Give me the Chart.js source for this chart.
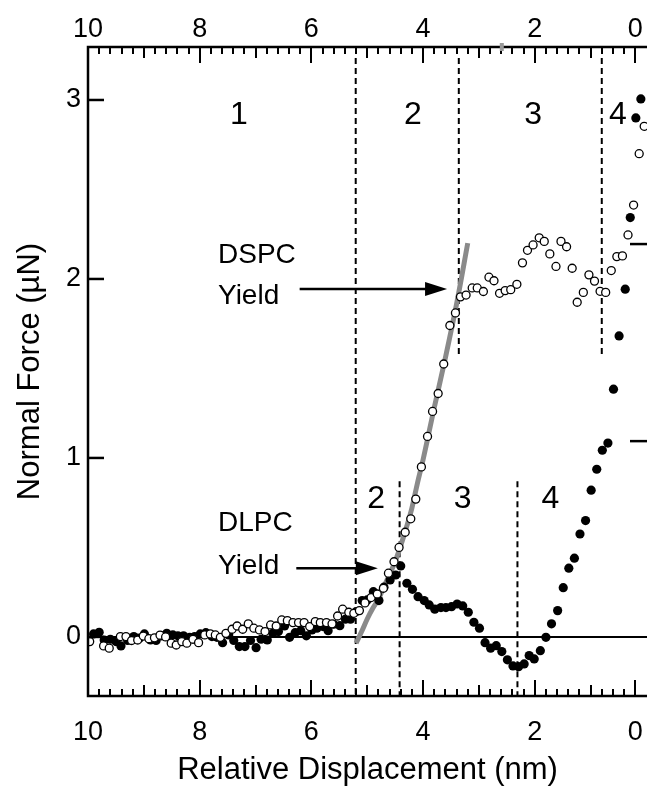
<!DOCTYPE html>
<html><head><meta charset="utf-8">
<script src="https://cdn.jsdelivr.net/npm/chart.js@4.4.1/dist/chart.umd.min.js"></script>
<style>html,body{margin:0;padding:0;background:#fff;}</style>
</head><body>
<canvas id="c" width="647" height="790"></canvas>
<script>
// ---- data ----
const dlpcX = [9.90,9.80,9.71,9.60,9.50,9.41,9.29,9.18,9.08,8.99,8.88,8.78,8.68,8.59,8.48,8.39,8.29,8.18,8.09,7.99,7.89,7.78,7.69,7.59,7.48,7.39,7.29,7.19,7.09,6.99,6.90,6.79,6.69,6.59,6.48,6.39,6.29,6.19,6.09,5.99,5.90,5.79,5.70,5.60,5.49,5.39,5.30,5.20,5.09,5.00,4.89,4.79,4.70,4.59,4.49,4.40,4.29,4.19,4.09,3.98,3.89,3.79,3.68,3.59,3.49,3.39,3.29,3.19,3.09,2.99,2.89,2.79,2.69,2.59,2.49,2.39,2.29,2.19,2.10,2.01,1.90,1.80,1.70,1.59,1.49,1.39,1.29,1.19,1.09,0.99,0.89,0.79,0.69,0.59,0.49,0.38,0.29,0.19,0.10];
const dlpcY = [0.017,0.026,-0.017,-0.013,-0.026,-0.05,-0.02,0.002,-0.007,0.017,-0.017,-0.02,0.006,0.02,0.011,0.006,0.006,-0.002,0.002,0.017,0.024,0.002,-0.002,-0.032,0.011,-0.02,-0.054,-0.054,-0.02,-0.06,-0.013,-0.017,0.02,0.03,0.061,-0.002,0.024,0.035,0.006,0.039,0.049,0.058,0.035,0.071,0.063,0.099,0.099,0.141,0.203,0.207,0.253,0.203,0.278,0.318,0.346,0.397,0.30,0.266,0.225,0.203,0.179,0.155,0.164,0.164,0.169,0.184,0.173,0.138,0.082,0.049,-0.032,-0.063,-0.049,-0.082,-0.128,-0.162,-0.166,-0.151,-0.104,-0.123,-0.077,-0.002,0.073,0.147,0.275,0.384,0.44,0.575,0.65,0.82,0.937,1.043,1.083,1.384,1.682,1.943,2.343,2.90,3.006];
const dspcX = [9.97,9.72,9.62,9.42,9.32,9.22,9.11,9.01,8.91,8.81,8.71,8.61,8.51,8.42,8.32,8.23,8.12,8.02,7.91,7.81,7.72,7.63,7.53,7.42,7.33,7.23,7.13,7.03,6.93,6.83,6.73,6.63,6.53,6.43,6.33,6.23,6.13,6.03,5.93,5.84,5.73,5.63,5.53,5.44,5.33,5.24,5.14,5.04,4.93,4.82,4.71,4.62,4.52,4.43,4.32,4.22,4.13,4.03,3.92,3.83,3.73,3.63,3.52,3.42,3.33,3.23,3.12,3.03,2.92,2.82,2.73,2.63,2.53,2.43,2.32,2.22,2.13,2.03,1.92,1.83,1.73,1.62,1.53,1.43,1.33,1.24,1.13,1.03,0.93,0.83,0.73,0.63,0.53,0.43,0.33,0.23,0.13,0.04];
const dspcY = [-0.026,-0.05,-0.063,0.002,0.002,-0.02,-0.017,0.005,-0.01,-0.005,0.01,0.0,-0.035,-0.045,-0.026,-0.035,-0.013,-0.032,0.011,0.017,0.011,-0.002,0.02,0.043,0.061,0.043,0.073,0.049,0.039,0.03,0.067,0.061,0.095,0.091,0.08,0.08,0.08,0.058,0.086,0.08,0.08,0.073,0.117,0.155,0.138,0.132,0.147,0.19,0.22,0.24,0.272,0.356,0.42,0.50,0.585,0.66,0.77,0.95,1.12,1.26,1.36,1.525,1.74,1.81,1.90,1.91,1.95,1.95,1.93,2.01,1.99,1.92,1.935,1.94,1.97,2.09,2.16,2.19,2.23,2.21,2.14,2.07,2.21,2.18,2.06,1.87,1.925,2.023,1.988,1.931,1.925,2.047,2.125,2.129,2.246,2.413,2.70,2.853];
const fitX = [5.20,5.10,5.00,4.90,4.80,4.70,4.60,4.50,4.40,4.30,4.20,4.10,4.00,3.80,3.60,3.40,3.20];
const fitY = [-0.035,0.03,0.10,0.16,0.21,0.28,0.35,0.42,0.51,0.61,0.72,0.86,0.99,1.28,1.56,1.86,2.20];

const xTickValues = [10,8,6,4,2,0.2];
const xTickLabels = ['10','8','6','4','2','0'];
const yTickValues = [0,1,2,3];
const rightTickValues = [1.094,2.195];

const guideX      = [5.206,3.36,0.80,4.42,2.31];
const guideTop    = [3.235,3.235,3.235,0.87,0.87];
const guideBottom = [-0.33,1.575,1.575,-0.33,-0.33];

const regionText = ['1','2','3','4','2','3','4'];
const regionX    = [7.30,4.18,2.03,0.51,4.84,3.29,1.72];
const regionY    = [2.916,2.916,2.916,2.916,0.771,0.771,0.771];

const yieldLines  = [['DSPC','Yield'],['DLPC','Yield']];
const yieldTextX  = [7.672,7.672];
const yieldTextY  = [[2.134,1.905],[0.637,0.397]];
const arrowStartX = [6.21,6.27];
const arrowTipX   = [3.57,4.81];
const arrowY      = [1.944,0.384];

const grayMarkX = 2.59;

const FONT = '"Liberation Sans", Arial, Helvetica, sans-serif';
const pts = (xs, ys) => xs.map((x,i)=>({x:x, y:ys[i]}));

const overlay = {
  id:'overlay',
  beforeDatasetsDraw(chart){
    const {ctx, chartArea:a} = chart;
    const xs = chart.scales.x, ys = chart.scales.y;
    ctx.save();
    ctx.strokeStyle='#000'; ctx.lineWidth=2;
    ctx.beginPath(); const y0 = ys.getPixelForValue(0);
    ctx.moveTo(a.left,y0); ctx.lineTo(a.right,y0); ctx.stroke();
    ctx.setLineDash([6,4]); ctx.lineWidth=2;
    guideX.forEach((gx,i)=>{
      const px = xs.getPixelForValue(gx);
      ctx.beginPath();
      ctx.moveTo(px, ys.getPixelForValue(guideTop[i]));
      ctx.lineTo(px, ys.getPixelForValue(guideBottom[i]));
      ctx.stroke();
    });
    ctx.restore();
  },
  afterDatasetsDraw(chart){
    const {ctx, chartArea:a} = chart;
    const xs = chart.scales.x, ys = chart.scales.y;
    ctx.save();
    ctx.strokeStyle='#000'; ctx.fillStyle='#000'; ctx.lineWidth=2.5; ctx.lineCap='butt';
    ctx.beginPath();
    ctx.moveTo(a.right, a.top); ctx.lineTo(a.left, a.top); ctx.lineTo(a.left, a.bottom); ctx.lineTo(a.right, a.bottom);
    ctx.stroke();
    ctx.lineWidth=2;
    for(let k=0;k<=49;k++){
      const v = 10 - 0.2*k;
      const px = Math.round(xs.getPixelForValue(v));
      let len = 7;
      if (k%10===0 || k===49) len = 16; else if (k%5===0) len = 11;
      ctx.beginPath();
      ctx.moveTo(px, a.top); ctx.lineTo(px, a.top+len);
      ctx.moveTo(px, a.bottom); ctx.lineTo(px, a.bottom-len);
      ctx.stroke();
    }
    ctx.lineWidth=2.5;
    yTickValues.forEach(v=>{
      const py = ys.getPixelForValue(v);
      ctx.beginPath(); ctx.moveTo(a.left,py); ctx.lineTo(a.left+16,py); ctx.stroke();
    });
    rightTickValues.forEach(v=>{
      const py = ys.getPixelForValue(v);
      ctx.beginPath(); ctx.moveTo(a.right-17,py); ctx.lineTo(a.right,py); ctx.stroke();
    });
    ctx.fillStyle='#999';
    const gx = xs.getPixelForValue(grayMarkX);
    ctx.fillRect(gx-2, a.top-4, 4, 8);
    ctx.fillStyle='#000';
    ctx.textAlign='center'; ctx.textBaseline='middle';
    ctx.font = '32px '+FONT;
    regionText.forEach((t,i)=>{
      ctx.fillText(t, xs.getPixelForValue(regionX[i]), ys.getPixelForValue(regionY[i]));
    });
    ctx.textAlign='left';
    ctx.font = '28px '+FONT;
    yieldLines.forEach((lines,i)=>{
      lines.forEach((t,j)=>{
        ctx.fillText(t, xs.getPixelForValue(yieldTextX[i]), ys.getPixelForValue(yieldTextY[i][j]));
      });
    });
    ctx.lineWidth=2.5;
    arrowY.forEach((ay,i)=>{
      const py = ys.getPixelForValue(ay);
      const x0 = xs.getPixelForValue(arrowStartX[i]);
      const x1 = xs.getPixelForValue(arrowTipX[i]);
      const head = 22;
      ctx.beginPath(); ctx.moveTo(x0,py); ctx.lineTo(x1-head+2,py); ctx.stroke();
      ctx.beginPath(); ctx.moveTo(x1,py); ctx.lineTo(x1-head,py-7); ctx.lineTo(x1-head,py+7); ctx.closePath(); ctx.fill();
    });
    ctx.restore();
  }
};

new Chart(document.getElementById('c').getContext('2d'), {
  type:'scatter',
  data:{datasets:[
    {label:'DSPC', data: pts(dspcX,dspcY), xAxisID:'x', yAxisID:'y', order:0,
     pointRadius:4, pointBackgroundColor:'#fff', pointBorderColor:'#000', pointBorderWidth:1.3, showLine:false},
    {label:'DLPC', data: pts(dlpcX,dlpcY), xAxisID:'x', yAxisID:'y', order:1,
     pointRadius:4.6, pointBackgroundColor:'#000', pointBorderColor:'#000', pointBorderWidth:0, showLine:false},
    {label:'DSPC fit', data: pts(fitX,fitY), xAxisID:'x', yAxisID:'y', order:2,
     showLine:true, pointRadius:0, borderColor:'#8a8a8a', borderWidth:5, cubicInterpolationMode:'monotone', borderCapStyle:'butt'}
  ]},
  options:{
    responsive:false, animation:false, devicePixelRatio:1,
    layout:{padding:0, autoPadding:false},
    plugins:{legend:{display:false}, tooltip:{enabled:false}},
    scales:{
      x:{type:'linear', position:'bottom', reverse:true, min:-0.01, max:10,
        afterBuildTicks:s=>{ s.ticks = xTickValues.map(v=>({value:v})); },
        afterFit:s=>{ s.height = 94; s.paddingLeft = 0; s.paddingRight = 0; },
        grid:{display:false, drawTicks:false}, border:{display:false},
        ticks:{callback:(v,i)=>xTickLabels[i], color:'#000', font:{family:FONT,size:27}, padding:20, maxRotation:0, autoSkip:false},
        title:{display:true, text:'Relative Displacement (nm)', color:'#000', font:{family:FONT,size:31}, padding:{top:0,bottom:1}}
      },
      x2:{type:'linear', position:'top', reverse:true, min:-0.01, max:10,
        afterBuildTicks:s=>{ s.ticks = xTickValues.map(v=>({value:v})); },
        afterFit:s=>{ s.height = 47; s.paddingLeft = 0; s.paddingRight = 0; },
        grid:{display:false, drawTicks:false}, border:{display:false},
        ticks:{callback:(v,i)=>xTickLabels[i], color:'#000', font:{family:FONT,size:27}, padding:1, maxRotation:0, autoSkip:false}
      },
      y:{type:'linear', position:'left', min:-0.33, max:3.296,
        afterBuildTicks:s=>{ s.ticks = yTickValues.map(v=>({value:v})); },
        afterFit:s=>{ s.width = 88; s.paddingTop = 0; s.paddingBottom = 0; },
        grid:{display:false, drawTicks:false}, border:{display:false},
        ticks:{color:'#000', font:{family:FONT,size:27}, padding:7},
        title:{display:true, text:'Normal Force (µN)', color:'#000', font:{family:FONT,size:31}, padding:{top:12,bottom:0}}
      }
    }
  },
  plugins:[overlay]
});
</script>
</body></html>
